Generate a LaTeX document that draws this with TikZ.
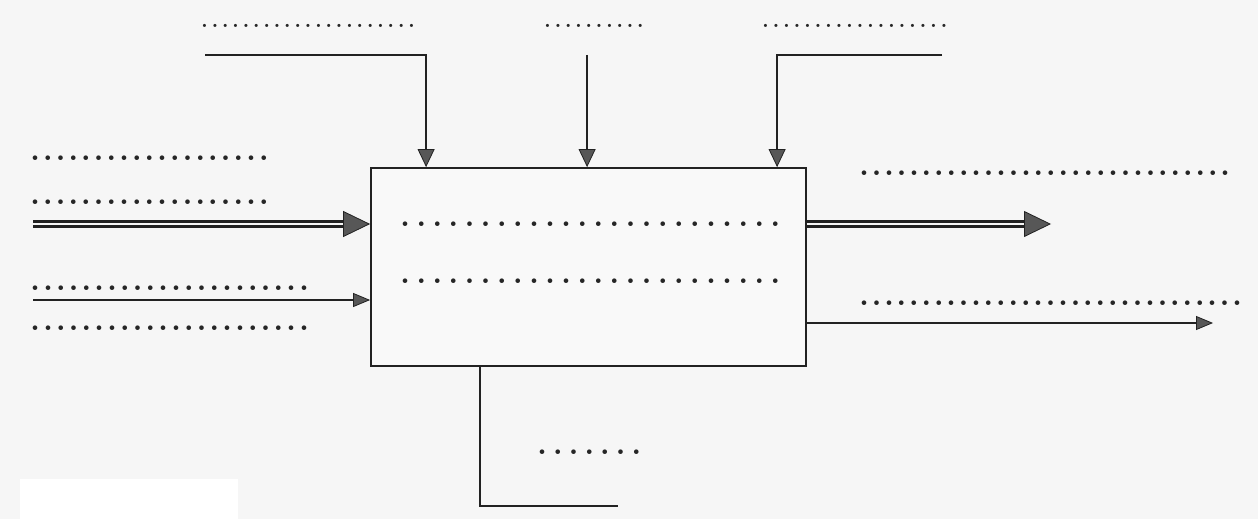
\documentclass[tikz,border=0pt]{standalone}
\usetikzlibrary{arrows.meta}
\definecolor{bgcol}{HTML}{F6F6F6}
\definecolor{boxcol}{HTML}{F9F9F9}
\definecolor{linecol}{HTML}{222222}
\definecolor{headcol}{HTML}{575757}
\newcommand\myDots[2]{\foreach \i in {1,...,#1}{\makebox[#2pt][l]{.}}}
\tikzset{
  x=1pt, y=-1pt,
  conn/.style={draw=linecol, line width=1.8pt},
  arr/.style={conn, -{Triangle[length=18pt, width=17pt, fill=headcol, line width=0.8pt]}},
  arrin/.style={conn, -{Triangle[length=17pt, width=14pt, fill=headcol, line width=0.8pt]}},
  dbl/.style={draw=linecol, line width=2.2pt, double=bgcol, double distance=2.8pt,
    -{Triangle[length=27pt, width=26pt, fill=headcol, line width=0.8pt]}},
  procbox/.style={draw=linecol, fill=boxcol, line width=1.8pt, minimum width=435pt, minimum height=198pt, inner sep=0pt},
  dotsbig/.style={anchor=base west, inner sep=0pt, font=\fontsize{32}{32}\selectfont\bfseries, text=black!85},
  dotssmall/.style={anchor=base west, inner sep=0pt, font=\fontsize{22}{22}\selectfont\bfseries, text=black!85},
}
\begin{document}
\begin{tikzpicture}
\fill[bgcol] (0,0) rectangle (1258,519);
\useasboundingbox (0,0) rectangle (1258,519);
\fill[white] (20,479) rectangle (238,519);

% process box
\node[procbox] (box) at (588.5,267) {};

% labels (dot placeholders)
\node[dotssmall] (lc1) at (201,27.5) {\myDots{21}{10.35}};
\node[dotssmall] (lc2) at (544,27.5) {\myDots{10}{10.3}};
\node[dotssmall] (lc3) at (762,27.5) {\myDots{18}{10.5}};
\node[dotsbig] (li1a) at (30,160.5) {\myDots{19}{12.7}};
\node[dotsbig] (li1b) at (30,204.5) {\myDots{19}{12.7}};
\node[dotsbig] (li2a) at (30,290.5) {\myDots{22}{12.8}};
\node[dotsbig] (li2b) at (30,330.5) {\myDots{22}{12.8}};
\node[dotsbig] (lo1) at (859,175.5) {\myDots{30}{12.45}};
\node[dotsbig] (lo2) at (859,305.5) {\myDots{31}{12.43}};
\node[dotsbig] (lb1) at (400,226.5) {\myDots{24}{16.1}};
\node[dotsbig] (lb2) at (400,283.5) {\myDots{24}{16.1}};
\node[dotsbig] (lm) at (537,454.5) {\myDots{7}{15.7}};

% coordinates
\coordinate (in1s) at (33,224);
\coordinate (in2s) at (33,300);
\coordinate (out1e) at (1051,224);
\coordinate (out2e) at (1213,323);
\coordinate (c1s) at (205,55);
\coordinate (c3s) at (942,55);
\path (box.north west) ++(56,0) coordinate (c1e);
\path (box.north west) ++(217,0) coordinate (c2e);
\path (box.north west) ++(407,0) coordinate (c3e);
\coordinate (c2s) at (c2e |- c1s);
\path (box.south west) ++(110,0) coordinate (m1s);
\coordinate (m1e) at (618,506);

% inputs
\draw[dbl] (in1s) -- (in1s -| box.west);
\draw[arrin] (in2s) -- (in2s -| box.west);
% outputs
\draw[dbl] (out1e -| box.east) -- (out1e);
\draw[arrin] (out2e -| box.east) -- (out2e);
% controls
\draw[arr] (c1s) -| (c1e);
\draw[arr] (c2s) -- (c2e);
\draw[arr] (c3s) -| (c3e);
% mechanism
\draw[conn] (m1s) |- (m1e);
\end{tikzpicture}
\end{document}
